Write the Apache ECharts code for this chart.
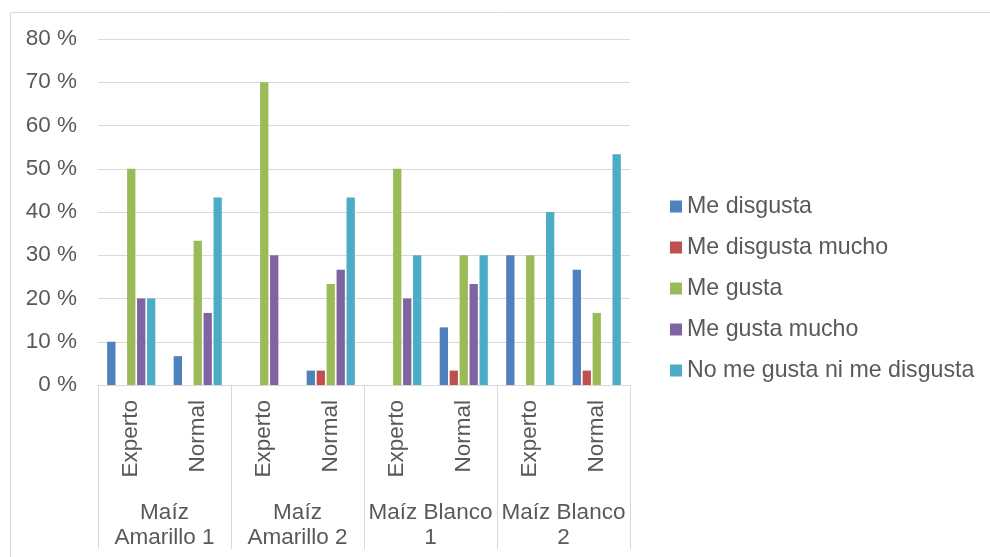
<!DOCTYPE html>
<html>
<head>
<meta charset="utf-8">
<script src="https://cdn.jsdelivr.net/npm/echarts@6/dist/echarts.min.js"></script>
<style>
  html, body { margin: 0; padding: 0; background: #fff; }
  #chart { width: 990px; height: 557px; }
</style>
</head>
<body>
<div id="chart"></div>
<script>
// Inner categories (panel type) and outer groups (maize variety)
const panelTypes = ['Experto', 'Normal', 'Experto', 'Normal', 'Experto', 'Normal', 'Experto', 'Normal'];
const maizeGroups = ['Maíz\nAmarillo 1', 'Maíz\nAmarillo 2', 'Maíz Blanco\n1', 'Maíz Blanco\n2'];

// Percent of tasters per response, one value per panel type
const meDisgusta        = [10, 6.67, 0, 3.33, 0, 13.33, 30, 26.67];
const meDisgustaMucho   = [0, 0, 0, 3.33, 0, 3.33, 0, 3.33];
const meGusta           = [50, 33.33, 70, 23.33, 50, 30, 30, 16.67];
const meGustaMucho      = [20, 16.67, 30, 26.67, 20, 23.33, 0, 0];
const noMeGustaNiDisg   = [20, 43.33, 0, 43.33, 30, 30, 40, 53.33];

const yTicks = { min: 0, max: 80, interval: 10 };

const seriesDefs = [
  { name: 'Me disgusta', data: meDisgusta, color: '#4f81bd' },
  { name: 'Me disgusta mucho', data: meDisgustaMucho, color: '#c0504d' },
  { name: 'Me gusta', data: meGusta, color: '#9bbb59' },
  { name: 'Me gusta mucho', data: meGustaMucho, color: '#8064a2' },
  { name: 'No me gusta ni me disgusta', data: noMeGustaNiDisg, color: '#4bacc6' }
];

const FONT = '"Liberation Sans", Arial, sans-serif';
const TEXT = '#595959';
const LINE = '#d9d9d9';
const FS = 22.5;

const chart = echarts.init(document.getElementById('chart'), null, { renderer: 'canvas' });

chart.setOption({
  animation: false,
  backgroundColor: '#fff',
  textStyle: { fontFamily: FONT },
  graphic: [{
    type: 'rect',
    left: 8, top: 10,
    shape: { width: 1000, height: 600 },
    style: { fill: 'none', stroke: LINE, lineWidth: 1 },
    silent: true
  }],
  grid: { left: 98, right: 360, top: 39, bottom: 172, containLabel: false },
  legend: {
    orient: 'vertical',
    left: 665,
    top: 190,
    itemWidth: 12,
    itemHeight: 12,
    itemGap: 18,
    icon: 'rect',
    textStyle: { color: TEXT, fontSize: 23.2, fontFamily: FONT },
    data: seriesDefs.map(s => s.name)
  },
  xAxis: [
    {
      type: 'category',
      data: panelTypes,
      position: 'bottom',
      axisLine: { show: true, lineStyle: { color: LINE, width: 1 } },
      axisTick: { show: false },
      axisLabel: {
        rotate: 90,
        margin: 15,
        interval: 0,
        color: TEXT,
        fontSize: FS,
        fontFamily: FONT
      }
    },
    {
      type: 'category',
      data: maizeGroups,
      position: 'bottom',
      axisLine: { show: false },
      axisTick: { show: true, length: 164, alignWithLabel: false, lineStyle: { color: LINE, width: 1 } },
      axisLabel: {
        margin: 115,
        interval: 0,
        color: TEXT,
        fontSize: FS,
        lineHeight: 25,
        fontFamily: FONT,
        align: 'center'
      }
    }
  ],
  yAxis: {
    type: 'value',
    min: yTicks.min,
    max: yTicks.max,
    interval: yTicks.interval,
    axisLine: { show: false },
    axisTick: { show: false },
    splitLine: { show: true, lineStyle: { color: LINE, width: 1 } },
    axisLabel: {
      formatter: '{value} %',
      margin: 21,
      color: TEXT,
      fontSize: FS,
      fontFamily: FONT
    }
  },
  series: seriesDefs.map(s => ({
    name: s.name,
    type: 'bar',
    xAxisIndex: 0,
    data: s.data,
    barWidth: 8.3,
    barGap: '20%',
    itemStyle: { color: s.color }
  }))
});
</script>
</body>
</html>
